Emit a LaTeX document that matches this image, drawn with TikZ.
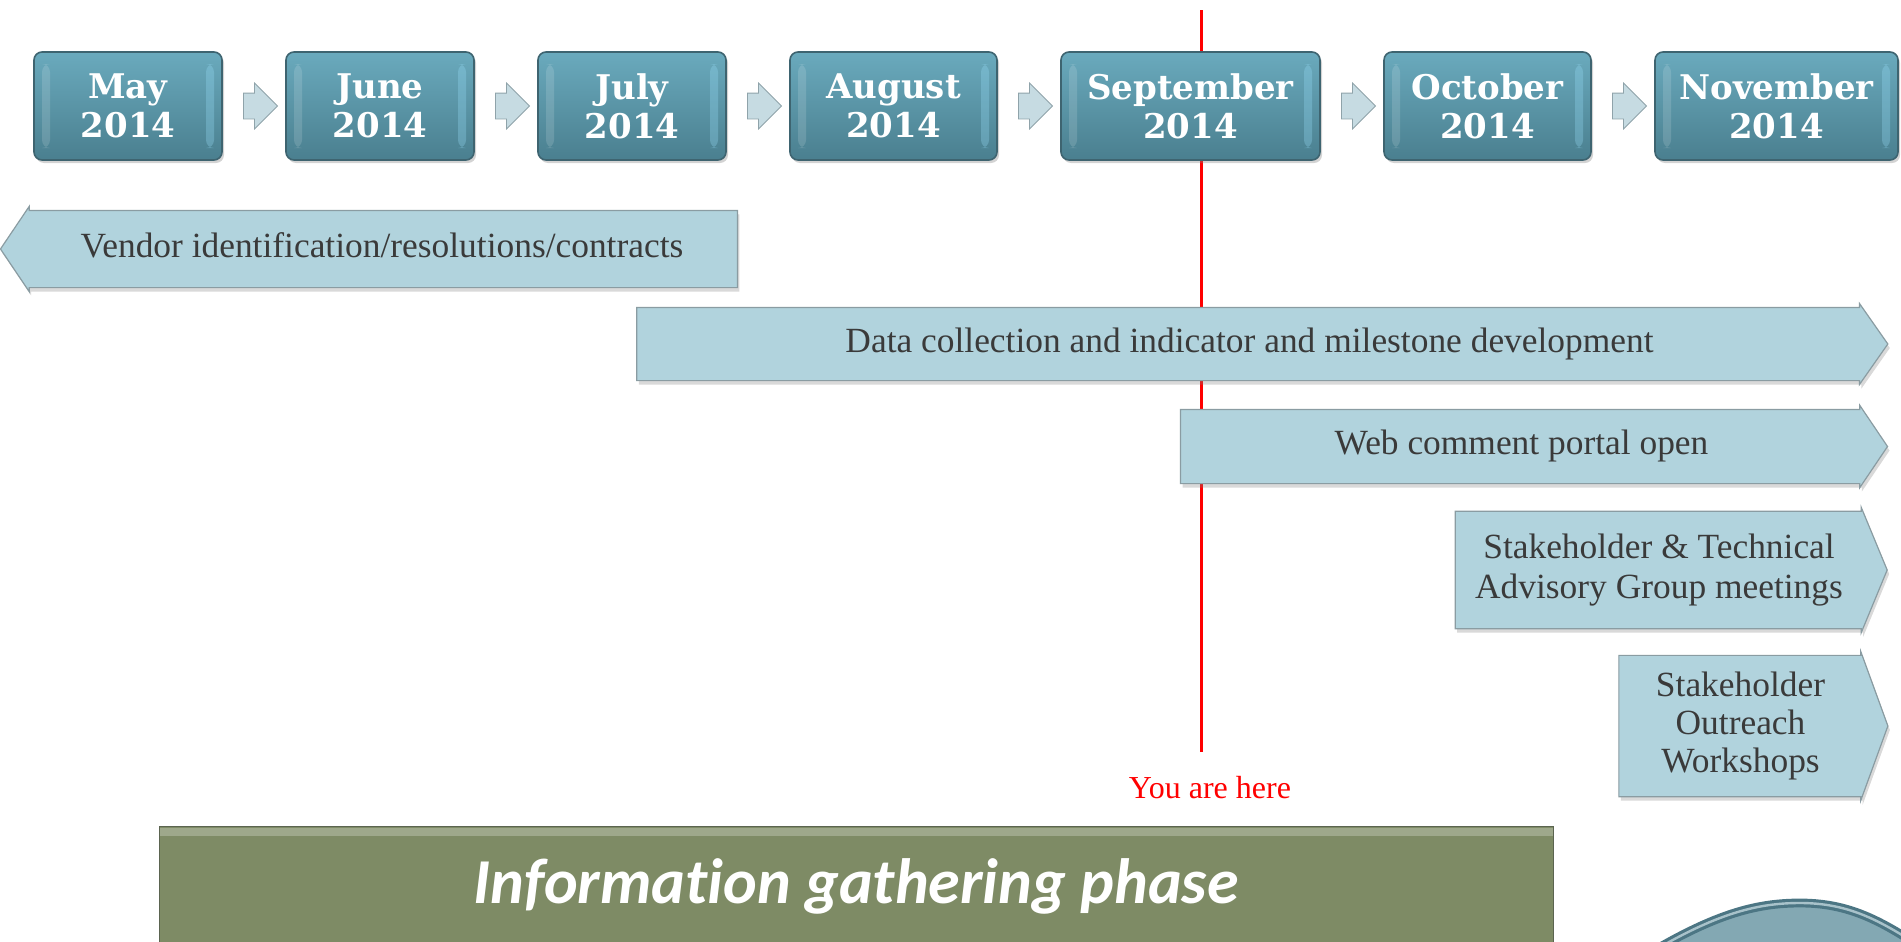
\documentclass[tikz,border=0pt]{standalone}
\usepackage{fontspec}
\setmainfont{Liberation Serif}
\newfontfamily\monthfont{DejaVu Serif}
\newfontfamily\phasefont{Carlito}[Ligatures=NoCommon]
\usetikzlibrary{positioning,shapes.arrows,shadows}
\definecolor{monthtop}{HTML}{6AAABD}
\definecolor{monthbot}{HTML}{4A7F8F}
\definecolor{monthline}{HTML}{3E6470}
\definecolor{gapfill}{HTML}{C6DBE2}
\definecolor{gapline}{HTML}{8FA3AA}
\definecolor{barfill}{HTML}{B1D3DD}
\definecolor{barline}{HTML}{8A9CA2}
\definecolor{bartext}{HTML}{3A3A3A}
\definecolor{phasefill}{HTML}{7E8B65}
\definecolor{phaseline}{HTML}{5B6450}
\definecolor{wavefill}{HTML}{83A8B3}
\definecolor{waveline}{HTML}{4C7684}
\begin{document}
\begin{tikzpicture}[x=0.5pt, y=-0.5pt, node distance=31.2pt,
    month/.style = {draw=monthline, line width=0.8pt, rounded corners=4pt,
        top color=monthtop, bottom color=monthbot, text=white,
        minimum width=94pt, minimum height=54pt, inner sep=0pt, align=center,
        font=\monthfont\bfseries\fontsize{17pt}{19.5pt}\selectfont,
        drop shadow={shadow xshift=1pt, shadow yshift=-1.5pt, opacity=.35},
        path picture={
            \fill[white, opacity=.14] ([xshift=4pt,yshift=-6pt]path picture bounding box.north west)
                rectangle ([xshift=8pt,yshift=6pt]path picture bounding box.south west);
            \fill[cyan!40!white, opacity=.3] ([xshift=-4pt,yshift=-6pt]path picture bounding box.north east)
                rectangle ([xshift=-8pt,yshift=6pt]path picture bounding box.south east);
        }},
    gaparrow/.style = {single arrow, draw=gapline, fill=gapfill, inner xsep=0pt,
        inner ysep=6.25pt, minimum height=17pt, single arrow head extend=5pt},
    bar/.style = {single arrow, draw=barline, line width=0.6pt, fill=barfill,
        text=bartext, inner xsep=0pt, single arrow head extend=2pt,
        text height=12pt, text depth=4pt,
        font=\fontsize{17.7pt}{20pt}\selectfont,
        drop shadow={shadow xshift=1pt, shadow yshift=-2pt, opacity=.3}},
    tallbar/.style = {bar, text height=, text depth=, align=center},
    here/.style = {text=red, font=\fontsize{16pt}{18pt}\selectfont},
    phase/.style = {draw=phaseline, fill=phasefill, text=white,
        minimum width=697pt, minimum height=60pt,
        font=\phasefont\bfseries\itshape\fontsize{32pt}{36pt}\selectfont,
        path picture={
            \fill[white, opacity=.25] ([yshift=-1pt]path picture bounding box.north west)
                rectangle ([yshift=-5pt]path picture bounding box.north east);
        }}]
    \clip (0,0) rectangle (1901,942);
    \useasboundingbox (0,0) rectangle (1901,942);

    % red marker behind everything
    \coordinate (top) at (1201,10);
    \node[here] (here) at (1210,788) {You are here};
    \draw[red, line width=1.5pt] (top) -- ([yshift=9pt]top |- here.north);

    % months
    \node[month] (may) at (128,106) {May\\2014};
    \node[month] (jun) [right=of may] {June\\2014};
    \node[month] (jul) [right=of jun] {July\\2014};
    \node[month, minimum width=103.5pt] (aug) [right=of jul] {August\\2014};
    \node[month, minimum width=129.5pt] (sep) [right=of aug] {September\\2014};
    \node[month, minimum width=103.5pt] (oct) [right=of sep] {October\\2014};
    \node[month, minimum width=121.5pt] (nov) [right=of oct] {November\\2014};
    \foreach \a/\b [count=\i] in {may/jun, jun/jul, jul/aug, aug/sep, sep/oct, oct/nov}
        \path (\a) -- node[gaparrow] (g\i) {} (\b);

    % activities
    \node[bar, shape border rotate=180, minimum height=368.5pt, inner ysep=11pt,
        single arrow tip angle=112] (vendor) at (382,249) {Vendor identification/resolutions/contracts};
    \node[bar, minimum height=625.5pt, inner ysep=10pt,
        single arrow tip angle=110] (data) at (1249.5,344) {Data collection and indicator and milestone development};
    \node[bar, minimum height=353.5pt, inner ysep=10.25pt,
        single arrow tip angle=112] (web) at (1521.5,446.5) {Web comment portal open};
    \node[tallbar, minimum height=216pt, inner ysep=11pt,
        single arrow tip angle=135] (tag) at (1659,570) {Stakeholder \& Technical\\Advisory Group meetings};
    \node[tallbar, minimum height=134.5pt, inner ysep=8pt,
        font=\fontsize{17.7pt}{19pt}\selectfont,
        single arrow tip angle=140] (outreach) at (1740.5,726) {Stakeholder\\Outreach\\Workshops};

    % phase
    \node[phase] (phase) at (856,886) {Information gathering phase};

    % corner wave
    \draw[waveline, line width=1.6pt, double=wavefill!70!white, double distance=1.2pt, fill=wavefill]
        (1655,950) .. controls (1720,912) and (1760,903) .. (1800,903)
        .. controls (1845,903) and (1875,918) .. (1910,940) -- (1910,950) -- cycle;
\end{tikzpicture}
\end{document}
